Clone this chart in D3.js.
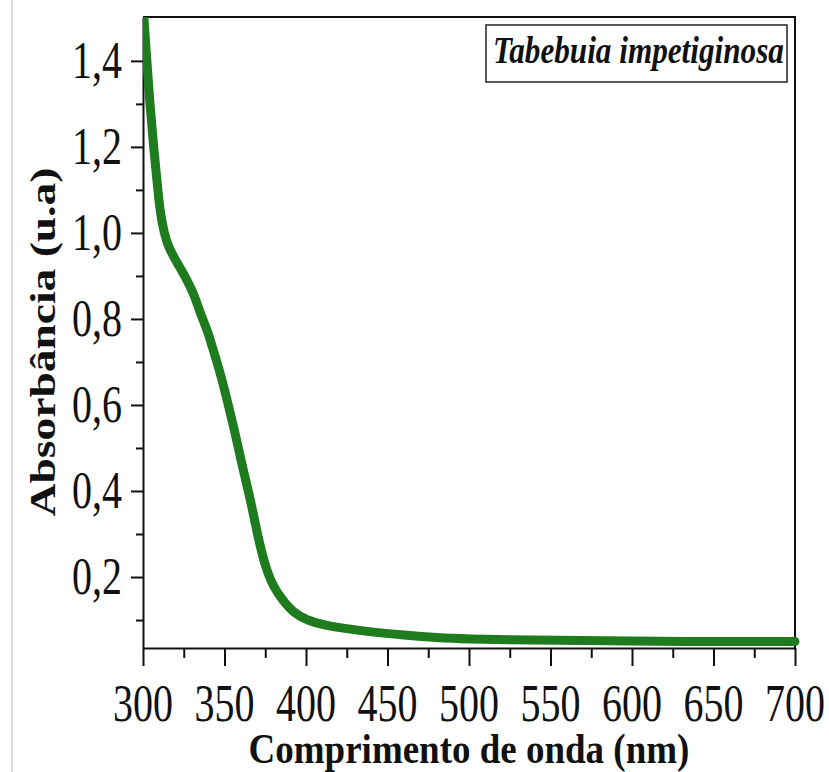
<!DOCTYPE html>
<html>
<head>
<meta charset="utf-8">
<script src="https://cdn.jsdelivr.net/npm/d3@7"></script>
<style>
  body { margin: 0; background: #fff; }
  text { font-family: "Liberation Serif", "Times New Roman", serif; fill: #111; }
  .axis path, .axis line { stroke: #111; stroke-width: 2; }
</style>
</head>
<body>
<script>
"use strict";

// spectrum (nm , absorbance)
var wavelength = [300, 302, 304, 306.5, 308.6, 310.5, 313, 315.5, 321, 327, 332, 335, 339.5, 342.5, 345.5, 348.5, 352, 356.5, 361, 366, 370, 375, 380, 385.5, 392, 400, 413, 421, 440, 460, 480, 500, 525, 550, 600, 650, 700];
var absorbance = [1.53, 1.42, 1.31, 1.20, 1.12, 1.047, 1.00, 0.967, 0.930, 0.891, 0.851, 0.814, 0.774, 0.735, 0.698, 0.658, 0.605, 0.535, 0.456, 0.379, 0.302, 0.223, 0.177, 0.147, 0.118, 0.100, 0.087, 0.082, 0.072, 0.065, 0.059, 0.056, 0.054, 0.053, 0.051, 0.050, 0.050];

var xTicks = [300, 350, 400, 450, 500, 550, 600, 650, 700];
var xMinor = [325, 375, 425, 475, 525, 575, 625, 675];
var yTicks = [0.2, 0.4, 0.6, 0.8, 1.0, 1.2, 1.4];
var yMinor = [0.1, 0.3, 0.5, 0.7, 0.9, 1.1, 1.3];

var speciesName = "Tabebuia impetiginosa";
var xTitle = "Comprimento de onda (nm)";
var yTitle = "Absorbância (u.a)";

var width = 829, height = 772;
// plot frame (window.top is taken, so m-prefixed)
var mLeft = 143, mRight = 795, mTop = 17, mBottom = 648;

var svg = d3.select("body").append("svg")
    .attr("width", width)
    .attr("height", height);

// faint edge of the scanned figure
svg.append("line")
    .attr("x1", 12).attr("x2", 12).attr("y1", 0).attr("y2", height)
    .attr("stroke", "#ddd").attr("stroke-width", 2);

var x = d3.scaleLinear().domain([300, 700]).range([mLeft, mRight]);
var y = d3.scaleLinear().domain([0.035, 1.502]).range([mBottom, mTop]);

var fmt = d => d3.format(".1f")(d).replace(".", ",");

///// axes: minor first, major on top
svg.append("g").attr("class", "axis")
    .attr("transform", "translate(0," + mBottom + ")")
    .call(d3.axisBottom(x).tickValues(xMinor).tickSize(10).tickFormat(""))
    .select(".domain").remove();

svg.append("g").attr("class", "axis")
    .attr("transform", "translate(0," + mBottom + ")")
    .call(d3.axisBottom(x).tickValues(xTicks).tickSize(18).tickSizeOuter(0).tickFormat(""));

svg.append("g").attr("class", "axis")
    .attr("transform", "translate(" + mLeft + ",0)")
    .call(d3.axisLeft(y).tickValues(yMinor).tickSize(7).tickFormat(""))
    .select(".domain").remove();

svg.append("g").attr("class", "axis")
    .attr("transform", "translate(" + mLeft + ",0)")
    .call(d3.axisLeft(y).tickValues(yTicks).tickSize(12).tickSizeOuter(0).tickFormat(""));

// tick labels, the figure is stretched vertically so the text is too
svg.append("g").selectAll("text")
    .data(xTicks)
  .enter().append("text")
    .attr("transform", d => "translate(" + x(d) + ",721) scale(1,1.3)")
    .attr("text-anchor", "middle")
    .style("font-size", "40px")
    .text(d => d);

svg.append("g").selectAll("text")
    .data(yTicks)
  .enter().append("text")
    .attr("transform", d => "translate(122," + (y(d) + 17) + ") scale(1,1.3)")
    .attr("text-anchor", "end")
    .style("font-size", "40px")
    .text(fmt);

// frame top + right
svg.append("path")
    .attr("d", "M" + mLeft + "," + mTop + "H" + mRight + "V" + mBottom)
    .attr("fill", "none")
    .attr("stroke", "#111")
    .attr("stroke-width", 2);

///// the spectrum
svg.append("clipPath").attr("id", "clip")
  .append("rect")
    .attr("x", mLeft).attr("y", mTop)
    .attr("width", mRight - mLeft + 6).attr("height", mBottom - mTop);

var line = d3.line()
    .curve(d3.curveBasis)   // readings are a bit noisy, basis smooths them
    .x((d, i) => x(wavelength[i]))
    .y(d => y(d));

svg.append("path")
    .attr("clip-path", "url(#clip)")
    .attr("d", line(absorbance))
    .attr("fill", "none")
    .attr("stroke", "#1e7b1e")
    .attr("stroke-width", 9)
    .attr("stroke-linecap", "round")
    .attr("stroke-linejoin", "round");

///// legend box
svg.append("rect")
    .attr("x", 486).attr("y", 25)
    .attr("width", 301).attr("height", 57)
    .attr("fill", "#fff")
    .attr("stroke", "#222")
    .attr("stroke-width", 1.5);

svg.append("text")
    .attr("transform", "translate(493,63) scale(1,1.22)")
    .style("font-size", "31.2px")
    .style("font-weight", "bold")
    .style("font-style", "italic")
    .text(speciesName);

///// titles
svg.append("text")
    .attr("transform", "translate(" + ((mLeft + mRight) / 2) + ",763) scale(1,1.15)")
    .attr("text-anchor", "middle")
    .style("font-size", "37px")
    .style("font-weight", "bold")
    .text(xTitle);

svg.append("text")
    .attr("transform", "translate(55,342) rotate(-90) scale(1.3,1)")
    .attr("text-anchor", "middle")
    .style("font-size", "35px")
    .style("font-weight", "bold")
    .text(yTitle);
</script>
</body>
</html>
